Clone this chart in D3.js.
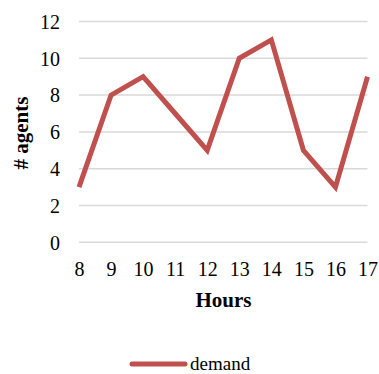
<!DOCTYPE html>
<html><head><meta charset="utf-8">
<script src="https://cdn.jsdelivr.net/npm/d3@7"></script>
<style>body{margin:0;background:#fff;} svg{display:block;}</style>
</head><body>
<script>
const hours = [8, 9, 10, 11, 12, 13, 14, 15, 16, 17];
const demand = [3, 8, 9, 7, 5, 10, 11, 5, 3, 9];
const yTicks = [0, 2, 4, 6, 8, 10, 12];
const seriesName = "demand";
const xTitle = "Hours";
const yTitle = "# agents";

const W = 379, H = 374;
const font = "Liberation Serif";
const svg = d3.select("body").append("svg").attr("width", W).attr("height", H);
const x = d3.scaleLinear().domain([8, 17]).range([79, 367.5]);
const y = d3.scaleLinear().domain([0, 12]).range([242.3, 21.5]);

// gridlines
svg.append("g").selectAll("line").data(yTicks).join("line")
  .attr("x1", 79).attr("x2", 367.5)
  .attr("y1", d => y(d)).attr("y2", d => y(d))
  .attr("stroke", "#d9d9d9").attr("stroke-width", 1.5);

// y axis labels
const yAxis = d3.axisLeft(y).tickValues(yTicks).tickSize(0).tickPadding(0);
const gy = svg.append("g").attr("transform", "translate(60,0)").call(yAxis);
gy.select(".domain").remove();
gy.attr("font-family", font).attr("font-size", 20);
gy.selectAll("text").attr("fill", "#000").attr("dy", "0.34em").style("font-family", font);

// x axis labels
const xAxis = d3.axisBottom(x).tickValues(hours).tickSize(0).tickPadding(0).tickFormat(d3.format("d"));
const gx = svg.append("g").attr("transform", "translate(0,262)").call(xAxis);
gx.select(".domain").remove();
gx.attr("font-family", font).attr("font-size", 20);
gx.selectAll("text").attr("fill", "#000").attr("dy", "0.7em").style("font-family", font);

// line
const line = d3.line().x((d, i) => x(hours[i])).y(d => y(d));
svg.append("path").datum(demand).attr("d", line)
  .attr("fill", "none").attr("stroke", "#c0504d").attr("stroke-width", 5)
  .attr("stroke-linejoin", "miter").attr("stroke-linecap", "butt");

// titles
svg.append("text").attr("x", 223.5).attr("y", 306.5).attr("text-anchor", "middle")
  .style("font-family", font).attr("font-size", 21).attr("font-weight", "bold").text(xTitle);
svg.append("text").attr("transform", "translate(28,133) rotate(-90)").attr("text-anchor", "middle")
  .style("font-family", font).attr("font-size", 21).attr("font-weight", "bold").text(yTitle);

// legend
svg.append("line").attr("x1", 132).attr("x2", 185).attr("y1", 364).attr("y2", 364)
  .attr("stroke", "#c0504d").attr("stroke-width", 5).attr("stroke-linecap", "round");
svg.append("text").attr("x", 190).attr("y", 370).style("font-family", font).attr("font-size", 19).text(seriesName);
</script>
</body></html>
